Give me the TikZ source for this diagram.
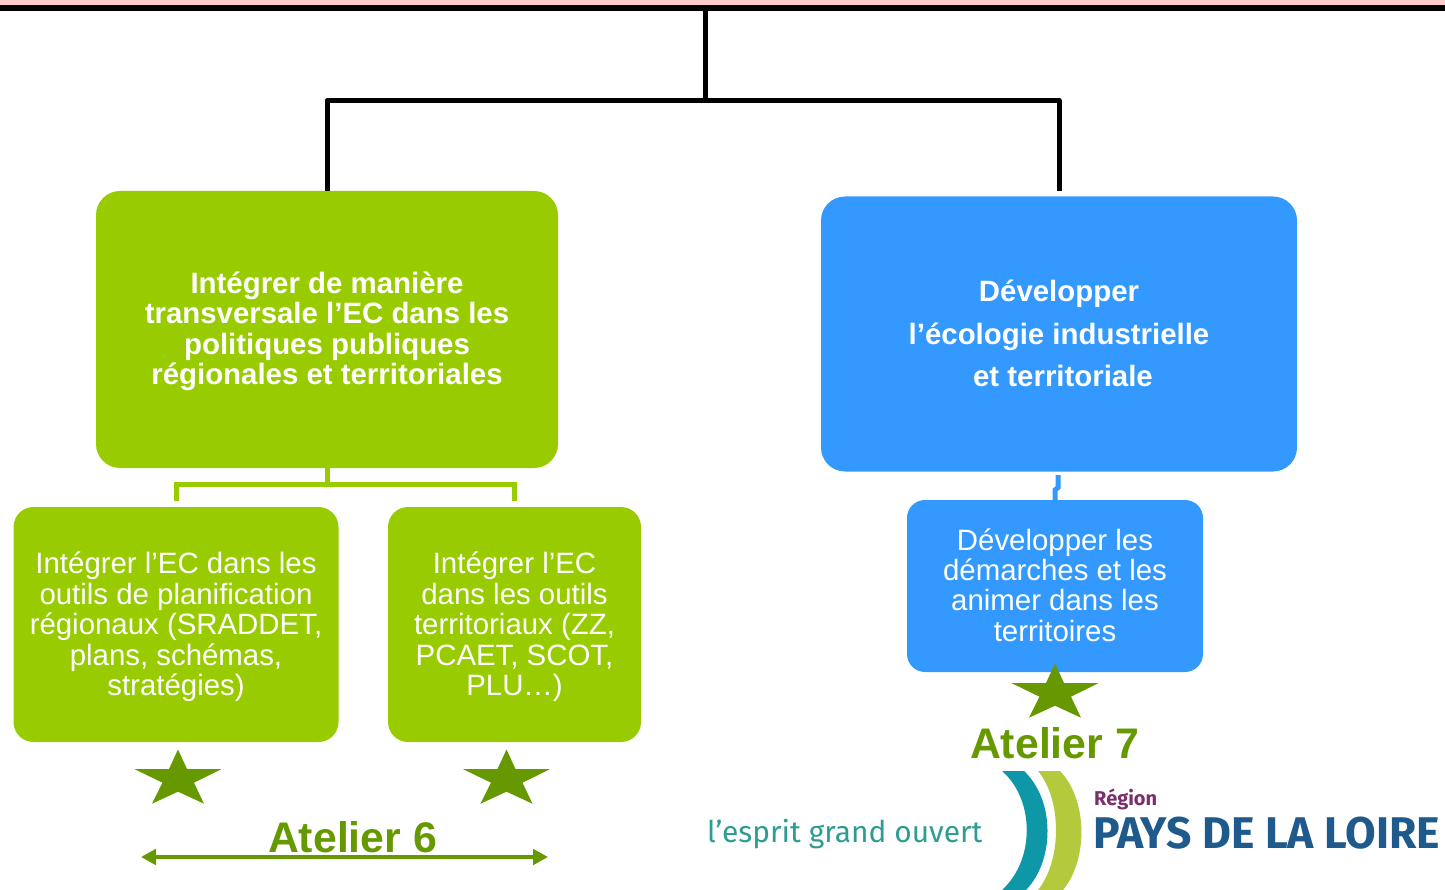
\documentclass[tikz,border=0pt]{standalone}
\usepackage{fontspec}
\setmainfont{Liberation Sans}
\newfontfamily\logofont{Fira Sans}
\usetikzlibrary{arrows.meta,calc}
\definecolor{pinkband}{HTML}{FFCCCC}
\definecolor{leaf}{HTML}{99CC00}
\definecolor{sky}{HTML}{3399FF}
\definecolor{moss}{HTML}{669900}
\definecolor{tealarc}{HTML}{0E97A6}
\definecolor{limearc}{HTML}{B5C93C}
\definecolor{logoblue}{HTML}{1F5A8C}
\definecolor{logoplum}{HTML}{7A2F6B}
\definecolor{logoteal}{HTML}{2E9C93}
\tikzset{
  x=1pt,y=-1pt,
  boxbase/.style={rounded corners=24pt,inner sep=0pt,text=white,align=center},
  greenbox/.style={boxbase,fill=leaf},
  bluebox/.style={boxbase,fill=sky},
  blackline/.style={draw=black,line width=5pt},
  greenline/.style={draw=leaf,line width=5pt},
  blueline/.style={draw=sky,line width=5pt},
  pics/starmark/.style={code={
    \fill[moss] (0,-46) -- (9,-26.5) -- (43.7,-26.5) -- (16,-12.8) -- (26,8.2) -- (0,-3.8) -- (-26,8.2) -- (-15.5,-12.8) -- (-43.7,-26.5) -- (-9,-26.5) -- cycle;
  }},
}
\newcommand{\fixedlines}[2]{\fontsize{#1}{#2}\selectfont}
\begin{document}
\begin{tikzpicture}
\useasboundingbox (0,0) rectangle (1445,890);
\fill[pinkband] (0,0) rectangle (1445,5.5);
\fill[black] (0,5.5) rectangle (1445,11);

% boxes
\node[greenbox,minimum width=462pt,minimum height=277pt] (main1) at (327,329.5) {};
\node[font=\bfseries\fixedlines{29.4}{30.4},text=white,align=center,inner sep=0pt] (main1t) at (327,331.5) {Intégrer de manière\\transversale l’EC dans les\\politiques publiques\\régionales et territoriales};
\node[bluebox,minimum width=476pt,minimum height=275pt] (main2) at (1059,334) {};
\node[font=\bfseries\fixedlines{29.4}{42.3},text=white,align=center,inner sep=0pt] (main2t) at (1059,333.5) {Développer\\l’écologie industrielle\\\hspace*{8pt}et territoriale};
\node[greenbox,rounded corners=20pt,minimum width=325pt,minimum height=235pt] (sub1) at (176,624.5) {};
\node[font=\fixedlines{29.4}{30.4},text=white,align=center,inner sep=0pt] (sub1t) at (176,627) {Intégrer l’EC dans les\\outils de planification\\régionaux (SRADDET,\\plans, schémas,\\stratégies)};
\node[greenbox,rounded corners=20pt,minimum width=253pt,minimum height=235pt] (sub2) at (514.5,624.5) {};
\node[font=\fixedlines{29.4}{30.4},text=white,align=center,inner sep=0pt] (sub2t) at (514.5,627) {Intégrer l’EC\\dans les outils\\territoriaux (ZZ,\\PCAET, SCOT,\\PLU…)};
\node[bluebox,rounded corners=18pt,minimum width=296pt,minimum height=172pt] (sub3) at (1055,586) {};
\node[font=\fixedlines{29.4}{30.4},text=white,align=center,inner sep=0pt] (sub3t) at (1055,585) {Développer les\\démarches et les\\animer dans les\\territoires};

% connectors
\coordinate (top) at (705,8);
\coordinate (hub) at (705,100.5);
\coordinate (leftdrop) at ($(main1.north)+(0,0)$);
\coordinate (rightdrop) at (1059,191);
\draw[blackline,line join=round] (top) -- (hub);
\draw[blackline,line join=round] (leftdrop) -- (327,100.5) -- (1059,100.5) -- (rightdrop);
\coordinate (ghub) at (327,484.5);
\draw[greenline] (main1.south) -- (ghub);
\coordinate (gleft) at (176,501);
\coordinate (gright) at (514.5,501);
\draw[greenline] (gleft) -- (176,484.5) -- (514.5,484.5) -- (gright);
\coordinate (bstart) at (1058,475);
\draw[blueline] (bstart) -- (1058,487.5) -- (1055,490) -- (sub3.north);

% stars
\pic (star1) at (178,795.5) {starmark};
\pic (star2) at (506.5,795.5) {starmark};
\pic (star3) at (1055,709.5) {starmark};

% atelier labels
\node[font=\bfseries\fontsize{42.8}{42.8}\selectfont,text=moss,inner sep=0pt,anchor=base] (a6) at (352.5,852) {Atelier 6};
\node[font=\bfseries\fontsize{42.8}{42.8}\selectfont,text=moss,inner sep=0pt,anchor=base] (a7) at (1054.5,758) {Atelier 7};
\coordinate (arrowl) at (141,857);
\coordinate (arrowr) at (548,857);
\draw[moss,line width=3.6pt,{Triangle[length=15pt,width=15.5pt]}-{Triangle[length=15pt,width=15.5pt]}] (arrowl) -- (arrowr);

% logo
\fill[tealarc] (1002,771) .. controls (1035,800) and (1035,860) .. (1002,890) -- (1026,890) .. controls (1055,860) and (1055,800) .. (1024,771) -- cycle;
\fill[limearc] (1038,771) .. controls (1062,800) and (1062,860) .. (1038,890) -- (1063,890) .. controls (1088,860) and (1088,800) .. (1060,771) -- cycle;
\node[font=\logofont\fontsize{29.9}{29.9}\selectfont,text=logoteal,inner sep=0pt,anchor=base west] (slogan) at (707,842) {l’esprit grand ouvert};
\node[font=\logofont\bfseries\fontsize{20}{20}\selectfont,text=logoplum,inner sep=0pt,anchor=base west] (region) at (1094,805) {Région};
\node[font=\logofont\bfseries\fontsize{44.4}{44.4}\selectfont,text=logoblue,inner sep=0pt,anchor=base west] (pays) at (1093,848) {PAYS DE LA LOIRE};
\end{tikzpicture}
\end{document}
